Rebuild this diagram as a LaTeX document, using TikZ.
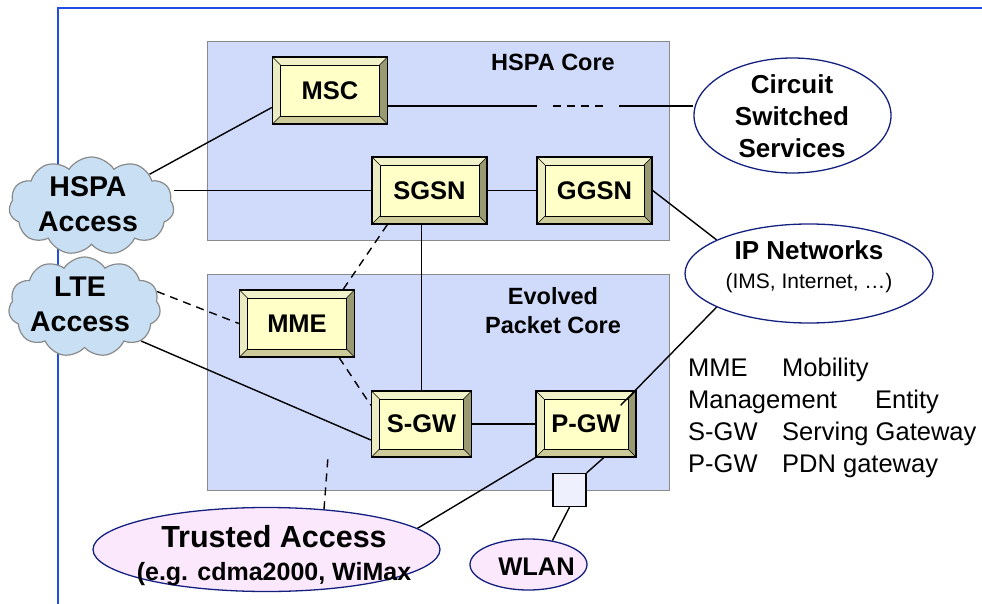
\documentclass[tikz,border=0pt]{standalone}
\usepackage{fontspec}
\setmainfont{Liberation Sans}
\usepackage{tikz}
\usetikzlibrary{shapes.geometric, shapes.symbols, positioning}

\definecolor{corefill}{HTML}{D0DBFC}
\definecolor{coreedge}{HTML}{8A8A8A}
\definecolor{cloudfill}{HTML}{C9E0F4}
\definecolor{facefill}{HTML}{FFFFC8}
\definecolor{bevtop}{HTML}{F2F2CA}
\definecolor{bevleft}{HTML}{ECECC2}
\definecolor{bevbottom}{HTML}{CCCB99}
\definecolor{bevright}{HTML}{9A9A72}
\definecolor{ovaledge}{HTML}{14207F}
\definecolor{pinkfill}{HTML}{FCE8FC}
\definecolor{sqfill}{HTML}{EEF1FD}
\definecolor{frameblue}{HTML}{1F4FE0}

\pgfdeclarelayer{back}
\pgfdeclarelayer{wires}
\pgfsetlayers{back,wires,main}

\newcommand{\bevelpic}{%
  \fill[bevtop] (path picture bounding box.north west) -- (path picture bounding box.north east)
    -- ([shift={(-8pt,-8pt)}]path picture bounding box.north east) -- ([shift={(8pt,-8pt)}]path picture bounding box.north west) -- cycle;
  \fill[bevleft] (path picture bounding box.north west) -- (path picture bounding box.south west)
    -- ([shift={(8pt,8pt)}]path picture bounding box.south west) -- ([shift={(8pt,-8pt)}]path picture bounding box.north west) -- cycle;
  \fill[bevbottom] (path picture bounding box.south west) -- (path picture bounding box.south east)
    -- ([shift={(-8pt,8pt)}]path picture bounding box.south east) -- ([shift={(8pt,8pt)}]path picture bounding box.south west) -- cycle;
  \fill[bevright] (path picture bounding box.north east) -- (path picture bounding box.south east)
    -- ([shift={(-8pt,8pt)}]path picture bounding box.south east) -- ([shift={(-8pt,-8pt)}]path picture bounding box.north east) -- cycle;
  \draw[line width=0.9pt] ([shift={(8pt,-8pt)}]path picture bounding box.north west) rectangle ([shift={(-8pt,8pt)}]path picture bounding box.south east);
  \draw[line width=0.6pt] (path picture bounding box.north west) -- ++(8pt,-8pt)
    (path picture bounding box.north east) -- ++(-8pt,-8pt)
    (path picture bounding box.south west) -- ++(8pt,8pt)
    (path picture bounding box.south east) -- ++(-8pt,8pt);
}

\tikzset{
    core/.style={rectangle, draw=coreedge, fill=corefill, line width=1.3pt, inner sep=0pt, anchor=north west},
    netbox/.style={rectangle, draw=black, line width=1.4pt, fill=facefill, inner sep=0pt, minimum width=115pt, minimum height=67pt, font=\fontsize{25.5}{30}\selectfont\bfseries, path picture={\bevelpic}},
    gwbox/.style={netbox, minimum width=100pt, minimum height=66pt},
    access/.style={cloud, cloud puffs=11, cloud puff arc=115, cloud ignores aspect, draw=coreedge, fill=cloudfill, line width=1.2pt, inner sep=0pt},
    accesstxt/.style={inner sep=0pt, align=center, font=\fontsize{28.5}{35}\selectfont\bfseries},
    oval/.style={ellipse, draw=ovaledge, line width=1.3pt, fill=white, inner sep=0pt},
    pinkoval/.style={oval, fill=pinkfill},
    title/.style={inner sep=0pt, anchor=base, font=\fontsize{23.5}{29}\selectfont\bfseries},
    legend/.style={inner sep=0pt, anchor=base west, font=\fontsize{25.5}{32}\selectfont},
    link/.style={line width=1.4pt},
    dlink/.style={link, dash pattern=on 8pt off 6pt},
}

\begin{document}
\begin{tikzpicture}[x=1pt, y=-1pt]
  \useasboundingbox (0,0) rectangle (982,604);
  \draw[draw=frameblue, line width=1.5pt] (58,604) -- (58,8) -- (982,8);

  \begin{pgfonlayer}{back}
    \node[core, minimum width=462pt, minimum height=199pt] (hspacore) at (207,41) {};
    \node[core, minimum width=462pt, minimum height=216pt] (epc) at (207,274) {};
  \end{pgfonlayer}
  \node[title] (hspacoretxt) at (553,71) {HSPA Core};
  \node[title, anchor=north, align=center] (epctxt) at (553,287) {Evolved\\Packet Core};

  \node[netbox] (msc)  at (330,90.5)   {MSC};
  \node[netbox] (sgsn) at (429.5,190.5) {SGSN};
  \node[netbox] (ggsn) at (594.5,190.5) {GGSN};
  \node[netbox] (mme)  at (297,323.5)   {MME};
  \node[gwbox]  (sgw)  at (421.5,424)   {S-GW};
  \node[gwbox]  (pgw)  at (586,424)     {P-GW};

  \node[access, minimum width=165pt, minimum height=98pt] (hspa) at (91.5,206) {};
  \node[accesstxt] (hspatxt) at (88,204) {HSPA\\Access};
  \node[access, minimum width=152pt, minimum height=100pt] (lte) at (84.5,307) {};
  \node[accesstxt] (ltetxt) at (80,304) {LTE\\Access};

  \node[oval, minimum width=197pt, minimum height=115pt] (circuit) at (792.5,115.5) {};
  \node[inner sep=0pt, anchor=north, align=center, font=\fontsize{26}{32}\selectfont\bfseries] (circuittxt) at (792,74) {Circuit\\Switched\\Services};
  \node[oval, minimum width=248pt, minimum height=99pt] (ipnet) at (809,273.5) {};
  \node[title, font=\fontsize{26}{30}\selectfont\bfseries] (ipnettxt) at (809,259) {IP Networks};
  \node[title, font=\fontsize{21}{26}\selectfont] (ipnetsub) at (809,288) {(IMS, Internet, \dots)};
  \node[pinkoval, minimum width=347pt, minimum height=84pt] (trusted) at (266.5,549.5) {};
  \node[title, font=\fontsize{30.5}{34}\selectfont\bfseries] (trustedtxt) at (274,547) {Trusted Access};
  \node[title, font=\fontsize{25}{30}\selectfont\bfseries] (trustedsub) at (274,580) {(e.g. cdma2000, WiMax};
  \node[pinkoval, minimum width=117pt, minimum height=51pt] (wlan) at (528.5,564.5) {};
  \node[title, font=\fontsize{25.5}{30}\selectfont\bfseries] (wlantxt) at (536.5,575) {WLAN};
  \node[draw=black, line width=1.4pt, fill=sqfill, minimum size=33pt, inner sep=0pt] (wsq) at (569.5,490) {};

  \coordinate (cs1) at (537,106);
  \coordinate (cs2) at (553,106);
  \coordinate (cs3) at (603,106);
  \coordinate (cs4) at (619,106);
  \coordinate (tafree) at (328,457);

  \begin{pgfonlayer}{wires}
    \draw[link] (hspa) -- ([yshift=-17pt]msc.west);
    \draw[link] (sgsn.west -| hspa.east) -- (sgsn.west);
    \draw[link] (msc.east |- cs1) -- (cs1);
    \draw[dlink] (cs2) -- (cs3);
    \draw[link] (cs4) -- (circuit.west |- cs4);
    \draw[link] (sgsn) -- (ggsn);
    \draw[link] (ggsn.east) -- (ipnet.160);
    \draw[link] (sgsn.south -| sgw.north) -- (sgw.north);
    \draw[dlink] ([xshift=16pt]sgsn.south west) -- ([xshift=-12pt]mme.north east);
    \draw[dlink] (lte.12) -- (mme.west);
    \draw[dlink] ([xshift=-16pt]mme.south east) -- ([yshift=-15pt]sgw.north west);
    \draw[link] (lte.329) -- ([yshift=-16pt]sgw.west);
    \draw[link] (sgw) -- (pgw);
    \draw[link] (pgw.south west) -- (trusted.8);
    \draw[link] ([xshift=-33pt]pgw.south east) -- (wsq.north east);
    \draw[link] (wsq.south) -- (wlan.45);
    \draw[dlink] (trusted.35) -- (tafree);
  \end{pgfonlayer}
  \draw[link] ([shift={(-16pt,-15pt)}]pgw.north east) -- (ipnet.200);

  \node[legend] (lgmme) at (688,376) {\makebox[94pt][l]{MME}Mobility};
  \node[legend] (lgmgmt) at (688,408) {\makebox[187pt][l]{Management}Entity};
  \node[legend] (lgsgw) at (688,440) {\makebox[94pt][l]{S-GW}Serving Gateway};
  \node[legend] (lgpgw) at (688,472) {\makebox[94pt][l]{P-GW}PDN gateway};
\end{tikzpicture}
\end{document}
